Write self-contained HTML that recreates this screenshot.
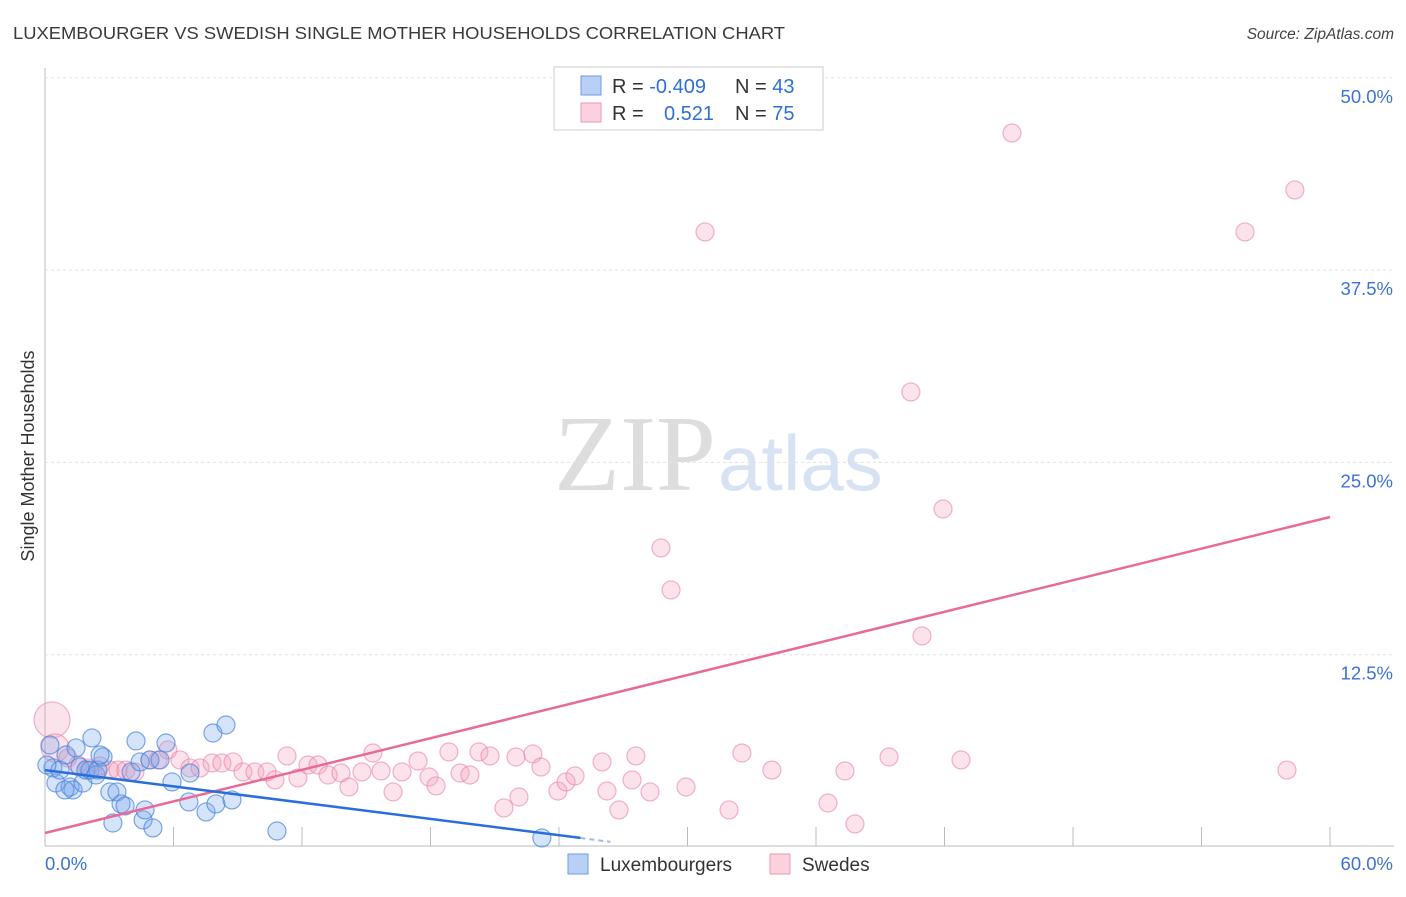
<!DOCTYPE html>
<html><head><meta charset="utf-8"><style>
body{margin:0;background:#fff;font-family:"Liberation Sans",sans-serif;}
svg text{font-family:"Liberation Sans",sans-serif;}
</style></head><body>
<svg id="chart" width="1406" height="892">
<text x="13" y="39" font-size="17.5" fill="#3a3a3a" textLength="772" lengthAdjust="spacingAndGlyphs">LUXEMBOURGER VS SWEDISH SINGLE MOTHER HOUSEHOLDS CORRELATION CHART</text>
<text x="1394" y="39" font-size="15.5" fill="#444" font-style="italic" text-anchor="end">Source: ZipAtlas.com</text>
<text x="34" y="456" font-size="18" fill="#333" text-anchor="middle" transform="rotate(-90 34 456)">Single Mother Households</text>
<text x="716" y="490" font-size="108" fill="#ddd" text-anchor="end" style="font-family:'Liberation Serif',serif">ZIP</text>
<text x="718" y="490" font-size="78" fill="#d7e3f3">atlas</text>
<g id="grid"></g><g id="marks"></g>
<g>
<rect x="554" y="67" width="269" height="63" fill="#fff" stroke="#ccc"/>
<rect x="581" y="76" width="20" height="19" fill="#b8d0f5" stroke="#6f9be0"/>
<rect x="581" y="103" width="20" height="19" fill="#fcd0dd" stroke="#ea9ab2"/>
<text x="612" y="93" font-size="20" fill="#333">R = <tspan fill="#2f6fd6">-0.409</tspan></text>
<text x="735" y="93" font-size="20" fill="#333">N = <tspan fill="#2f6fd6">43</tspan></text>
<text x="612" y="120" font-size="20" fill="#333">R = </text><text x="664" y="120" font-size="20" fill="#2f6fd6">0.521</text>
<text x="735" y="120" font-size="20" fill="#333">N = <tspan fill="#2f6fd6">75</tspan></text>
</g>
<g>
<rect x="568" y="854" width="20" height="20" fill="#b8d0f5" stroke="#6f9be0"/>
<text x="600" y="871" font-size="19" fill="#333">Luxembourgers</text>
<rect x="770" y="854" width="20" height="20" fill="#fcd0dd" stroke="#ea9ab2"/>
<text x="802" y="871" font-size="19" fill="#333">Swedes</text>
</g>
</svg>
<script>
const xTicks=[0,60];
const yTicks=[12.5,25,37.5,50];
const luxX=[0.23,0.37,0.51,0.70,0.98,1.17,1.31,1.45,1.63,1.77,1.91,2.10,2.19,2.38,2.47,2.71,3.03,3.17,3.36,3.55,3.74,4.02,4.25,4.44,4.58,4.67,4.90,5.04,5.65,5.93,6.72,6.77,7.52,7.84,7.98,8.45,8.73,10.83,23.2,5.37,2.57,0.93,0.09];
const luxY=[6.63,5.14,4.16,5.0,5.98,3.9,3.71,6.44,5.2,4.16,5.0,5.0,7.09,4.68,5.0,5.85,3.58,1.56,3.58,2.8,2.67,4.88,6.89,5.53,1.76,2.41,5.66,1.24,6.76,4.23,2.93,4.81,2.28,7.41,2.8,7.93,3.06,1.04,0.59,5.66,5.98,3.71,5.33];
const sweX=[0.33,0.47,1.07,1.54,2.01,2.57,3.03,3.41,3.78,4.20,4.90,5.28,5.74,6.30,6.77,7.24,7.80,8.26,8.78,9.24,9.80,10.37,10.74,11.30,11.81,12.28,12.75,13.22,13.82,14.19,14.80,15.31,15.69,16.25,16.67,17.42,17.93,18.26,18.86,19.38,19.84,20.26,20.78,21.43,22.13,22.78,23.16,21.99,23.95,24.33,24.75,26.01,26.24,26.80,27.41,27.59,28.25,28.76,29.23,29.93,30.82,31.94,32.54,33.94,36.56,37.35,37.82,39.41,40.43,40.95,41.93,42.77,45.15,56.03,57.99,58.36];
const sweY=[8.26,6.44,5.79,5.33,5.14,5.27,5.0,5.0,5.0,4.88,5.66,5.66,6.31,5.66,5.14,5.14,5.46,5.46,5.53,4.88,4.88,4.88,4.36,5.92,4.49,5.33,5.33,4.68,4.81,3.9,4.88,6.11,4.94,3.58,4.88,5.59,4.55,3.97,6.18,4.81,4.68,6.18,5.92,2.54,3.25,6.05,5.2,5.85,3.64,4.23,4.62,5.53,3.64,2.41,4.36,5.92,3.58,19.44,16.71,3.9,39.98,2.41,6.11,5.0,2.86,4.94,1.5,5.85,29.58,13.72,21.97,5.66,46.41,39.98,5.0,42.71];
const sweR=[18,14];
const luxTrend=[5.0,0.59];const luxTrendX=[0,25];
const luxDash=[0.59,0.33];const luxDashX=[25,26.4];
const sweTrend=[0.91,21.45];const sweTrendX=[0,60];
const X=v=>45+v*1285/60, Y=v=>847-v*769.2/50;
const NS='http://www.w3.org/2000/svg';
const grid=document.getElementById('grid'),marks=document.getElementById('marks');
function mk(tag,at,par){const e=document.createElementNS(NS,tag);for(const k in at)e.setAttribute(k,at[k]);par.appendChild(e);return e;}
let ax=mk('line',{x1:45,y1:68,x2:45,y2:846,stroke:'#bbb'},grid);


let bx=mk('line',{x1:45,y1:846,x2:1394,y2:846,stroke:'#bbb'},grid);


for(let i=1;i<=10;i++){const t=mk('line',{x1:X(i*6),x2:X(i*6),y1:827,y2:846,stroke:'#bbb'},grid);

}
yTicks.forEach(v=>{const l=mk('line',{x1:45,x2:1394,y1:Y(v),y2:Y(v),stroke:'#e2e2e2','stroke-dasharray':'3,3'},grid);


const t=mk('text',{x:1393,y:Y(v)+25,'font-size':18.5,fill:'#3b73d4','text-anchor':'end'},grid);t.textContent=v.toFixed(1)+'%';

});
xTicks.forEach((v,i)=>{const t=mk('text',{x:i?1393:45,y:870,'font-size':18.5,fill:'#3b73d4','text-anchor':i?'end':'start'},grid);t.textContent=v.toFixed(1)+'%';

});
sweX.forEach((v,i)=>{const c=mk('circle',{cx:X(v),cy:Y(sweY[i]),r:sweR[i]||9,fill:'rgba(244,160,188,0.3)',stroke:'rgba(230,130,165,0.6)','stroke-width':1.2},marks);

});
luxX.forEach((v,i)=>{const c=mk('circle',{cx:X(v),cy:Y(luxY[i]),r:9,fill:'rgba(120,165,235,0.3)',stroke:'rgba(70,130,220,0.7)','stroke-width':1.2},marks);

});
let pl=mk('line',{x1:X(sweTrendX[0]),y1:Y(sweTrend[0]),x2:X(sweTrendX[1]),y2:Y(sweTrend[1]),stroke:'#e8699a','stroke-width':2.5},marks);


let bl=mk('line',{x1:X(luxTrendX[0]),y1:Y(luxTrend[0]),x2:X(luxTrendX[1]),y2:Y(luxTrend[1]),stroke:'#2a6fd8','stroke-width':2.5},marks);


let bd=mk('line',{x1:X(luxDashX[0]),y1:Y(luxDash[0]),x2:X(luxDashX[1]),y2:Y(luxDash[1]),stroke:'#9bbbe8','stroke-width':2,'stroke-dasharray':'5,4'},marks);


</script>
</body></html>
